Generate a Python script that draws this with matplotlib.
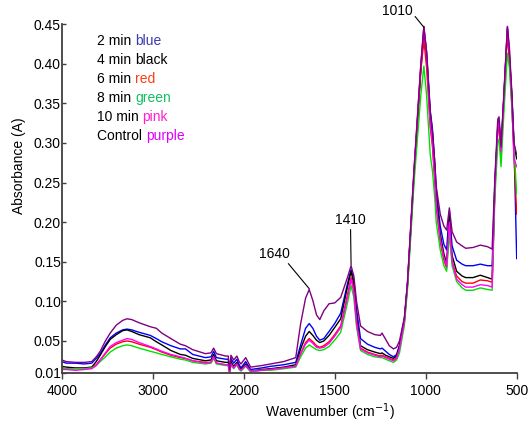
import matplotlib
matplotlib.use("Agg")
import matplotlib.pyplot as plt
import numpy as np
from matplotlib.ticker import FixedLocator, FixedFormatter

plt.rcParams["font.family"] = ["Liberation Sans", "DejaVu Sans"]

# wavenumbers (cm-1)
WAVENUMBER = [
    4000, 3950, 3850, 3750, 3670, 3620, 3577, 3520, 3467, 3400, 3330, 3283,
    3230, 3150, 3026, 2960, 2900, 2800, 2697, 2640, 2560, 2421, 2360, 2330,
    2300, 2200, 2170, 2155, 2140, 2110, 2075, 2050, 2030, 1989, 1962, 1900,
    1852, 1780, 1714, 1687, 1660, 1640, 1620, 1600, 1582, 1560, 1531, 1500,
    1467, 1430, 1410, 1395, 1380, 1358, 1320, 1280, 1249, 1240, 1220, 1200,
    1177, 1160, 1144, 1117, 1100, 1064, 1027, 1010, 995, 975, 963, 950,
    942, 920, 900, 885, 870, 855, 830, 800, 780, 740, 700, 660,
    635, 620, 604, 597, 586, 570, 551, 540, 527, 515, 500,
]

ABS_2MIN = [
    0.024, 0.022, 0.022, 0.021, 0.022, 0.028, 0.034, 0.045, 0.054, 0.060, 0.064, 0.065,
    0.064, 0.061, 0.057, 0.053, 0.049, 0.044, 0.040, 0.040, 0.033, 0.029, 0.030, 0.037,
    0.029, 0.027, 0.027, 0.012, 0.028, 0.022, 0.027, 0.020, 0.016, 0.024, 0.014, 0.016,
    0.018, 0.020, 0.023, 0.045, 0.066, 0.072, 0.066, 0.056, 0.051, 0.053, 0.062, 0.072,
    0.085, 0.122, 0.140, 0.128, 0.090, 0.053, 0.046, 0.042, 0.040, 0.041, 0.037, 0.033,
    0.030, 0.033, 0.045, 0.078, 0.122, 0.262, 0.395, 0.445, 0.415, 0.340, 0.318, 0.275,
    0.240, 0.195, 0.172, 0.165, 0.214, 0.170, 0.152, 0.147, 0.145, 0.145, 0.147, 0.145,
    0.145, 0.250, 0.322, 0.328, 0.292, 0.360, 0.445, 0.410, 0.362, 0.300, 0.154,
]
ABS_4MIN = [
    0.018, 0.017, 0.016, 0.016, 0.017, 0.024, 0.032, 0.043, 0.052, 0.058, 0.063, 0.064,
    0.062, 0.058, 0.054, 0.049, 0.045, 0.038, 0.033, 0.032, 0.028, 0.025, 0.026, 0.033,
    0.025, 0.023, 0.023, 0.011, 0.024, 0.018, 0.023, 0.017, 0.014, 0.021, 0.012, 0.014,
    0.015, 0.017, 0.020, 0.040, 0.056, 0.062, 0.057, 0.051, 0.048, 0.050, 0.057, 0.067,
    0.078, 0.118, 0.138, 0.122, 0.080, 0.044, 0.039, 0.036, 0.034, 0.035, 0.032, 0.030,
    0.028, 0.031, 0.043, 0.077, 0.121, 0.260, 0.392, 0.440, 0.410, 0.335, 0.312, 0.268,
    0.232, 0.185, 0.160, 0.148, 0.208, 0.158, 0.138, 0.132, 0.130, 0.130, 0.133, 0.130,
    0.128, 0.245, 0.318, 0.325, 0.290, 0.358, 0.443, 0.408, 0.360, 0.298, 0.280,
]
ABS_6MIN = [
    0.016, 0.015, 0.015, 0.015, 0.016, 0.020, 0.026, 0.034, 0.041, 0.046, 0.049, 0.050,
    0.049, 0.046, 0.042, 0.039, 0.036, 0.032, 0.029, 0.028, 0.025, 0.023, 0.023, 0.030,
    0.022, 0.020, 0.020, 0.010, 0.021, 0.016, 0.021, 0.015, 0.013, 0.019, 0.012, 0.013,
    0.014, 0.016, 0.018, 0.034, 0.048, 0.053, 0.049, 0.044, 0.042, 0.044, 0.049, 0.058,
    0.069, 0.108, 0.130, 0.115, 0.075, 0.041, 0.036, 0.033, 0.031, 0.032, 0.030, 0.028,
    0.026, 0.029, 0.040, 0.074, 0.120, 0.262, 0.390, 0.430, 0.395, 0.320, 0.296, 0.250,
    0.218, 0.175, 0.152, 0.142, 0.196, 0.150, 0.132, 0.125, 0.123, 0.123, 0.127, 0.126,
    0.124, 0.240, 0.315, 0.320, 0.285, 0.355, 0.438, 0.405, 0.350, 0.285, 0.210,
]
ABS_8MIN = [
    0.016, 0.015, 0.015, 0.015, 0.016, 0.019, 0.024, 0.030, 0.036, 0.041, 0.044, 0.045,
    0.044, 0.041, 0.037, 0.035, 0.033, 0.030, 0.027, 0.026, 0.023, 0.021, 0.022, 0.028,
    0.021, 0.019, 0.019, 0.010, 0.020, 0.015, 0.020, 0.014, 0.012, 0.018, 0.011, 0.013,
    0.013, 0.015, 0.017, 0.030, 0.041, 0.045, 0.042, 0.039, 0.038, 0.039, 0.043, 0.051,
    0.061, 0.098, 0.120, 0.105, 0.068, 0.038, 0.033, 0.030, 0.029, 0.029, 0.027, 0.025,
    0.023, 0.026, 0.035, 0.070, 0.115, 0.250, 0.360, 0.397, 0.360, 0.285, 0.265, 0.230,
    0.200, 0.165, 0.145, 0.138, 0.185, 0.145, 0.125, 0.117, 0.114, 0.114, 0.117, 0.115,
    0.114, 0.230, 0.300, 0.305, 0.270, 0.340, 0.413, 0.395, 0.345, 0.295, 0.235,
]
ABS_10MIN = [
    0.014, 0.014, 0.013, 0.014, 0.015, 0.019, 0.026, 0.035, 0.043, 0.048, 0.051, 0.053,
    0.052, 0.048, 0.043, 0.040, 0.037, 0.033, 0.030, 0.028, 0.025, 0.022, 0.023, 0.030,
    0.022, 0.020, 0.020, 0.010, 0.021, 0.016, 0.021, 0.015, 0.013, 0.019, 0.012, 0.013,
    0.014, 0.016, 0.018, 0.034, 0.046, 0.051, 0.047, 0.042, 0.041, 0.042, 0.047, 0.056,
    0.067, 0.105, 0.128, 0.112, 0.072, 0.040, 0.035, 0.032, 0.030, 0.031, 0.029, 0.027,
    0.025, 0.028, 0.040, 0.075, 0.124, 0.268, 0.398, 0.447, 0.410, 0.322, 0.300, 0.255,
    0.222, 0.178, 0.155, 0.144, 0.200, 0.150, 0.128, 0.121, 0.118, 0.118, 0.121, 0.120,
    0.118, 0.245, 0.320, 0.326, 0.290, 0.360, 0.447, 0.415, 0.355, 0.280, 0.270,
]
ABS_CONTROL = [
    0.026, 0.024, 0.023, 0.023, 0.024, 0.030, 0.037, 0.050, 0.060, 0.070, 0.076, 0.078,
    0.077, 0.073, 0.068, 0.066, 0.060, 0.053, 0.046, 0.044, 0.039, 0.034, 0.035, 0.041,
    0.034, 0.031, 0.031, 0.014, 0.032, 0.026, 0.031, 0.024, 0.021, 0.029, 0.017, 0.019,
    0.021, 0.024, 0.029, 0.072, 0.104, 0.115, 0.101, 0.083, 0.077, 0.088, 0.097, 0.098,
    0.105, 0.130, 0.145, 0.132, 0.100, 0.069, 0.062, 0.058, 0.057, 0.060, 0.052, 0.044,
    0.040, 0.042, 0.050, 0.080, 0.124, 0.266, 0.398, 0.447, 0.415, 0.340, 0.315, 0.275,
    0.245, 0.210, 0.195, 0.190, 0.218, 0.188, 0.175, 0.170, 0.167, 0.168, 0.171, 0.169,
    0.166, 0.255, 0.330, 0.333, 0.295, 0.365, 0.447, 0.420, 0.365, 0.300, 0.285,
]

SERIES = [
    ("2 min ", "blue", ABS_2MIN, "#0000ff", "#3b3bb0"),
    ("4 min ", "black", ABS_4MIN, "#000000", "#000000"),
    ("6 min ", "red", ABS_6MIN, "#ff0000", "#ff3c10"),
    ("8 min ", "green", ABS_8MIN, "#00e000", "#12c060"),
    ("10 min ", "pink", ABS_10MIN, "#ff00ff", "#ff20d0"),
    ("Control ", "purple", ABS_CONTROL, "#800080", "#dd00ff"),
]

X_TICKS = [4000, 3000, 2000, 1500, 1000, 500]
Y_TICKS = [0.01, 0.05, 0.10, 0.15, 0.20, 0.25, 0.30, 0.35, 0.40, 0.45]

PEAKS = [(1010, 0.446), (1410, 0.146), (1640, 0.116)]


def fwd(w):
    w = np.asarray(w, dtype=float)
    return np.where(w <= 2000, w / 500.0, 4.0 + (w - 2000) / 1000.0)


def inv(t):
    t = np.asarray(t, dtype=float)
    return np.where(t <= 4, t * 500.0, 2000 + (t - 4) * 1000.0)


fig = plt.figure(figsize=(5.30, 4.23), dpi=100)
ax = fig.add_axes([0.1164, 0.119, 0.8585, 0.824])
ax.set_xscale("function", functions=(fwd, inv))

wn = np.array(WAVENUMBER)
for prefix, word, vals, lc, tc in SERIES:
    ax.plot(wn, vals, color=lc, lw=1.0)

ax.set_xlim(4000, 500)
ax.set_ylim(0.01, 0.45)
ax.xaxis.set_major_locator(FixedLocator(X_TICKS))
ax.xaxis.set_major_formatter(FixedFormatter([str(t) for t in X_TICKS]))
ax.xaxis.set_minor_locator(FixedLocator([]))
ax.yaxis.set_major_locator(FixedLocator(Y_TICKS))
ax.yaxis.set_major_formatter(FixedFormatter([f"{t:.2f}" for t in Y_TICKS]))

for s in ("top", "right"):
    ax.spines[s].set_visible(False)
for s in ("left", "bottom"):
    ax.spines[s].set_color("#404040")
    ax.spines[s].set_linewidth(1.3)
ax.tick_params(axis="x", direction="out", length=4, width=1.0, color="#404040",
               labelsize=10, pad=4.5)
ax.tick_params(axis="y", direction="in", length=3, width=1.0, color="#404040",
               labelsize=10, pad=0.5)

ax.set_xlabel("Wavenumber (cm$^{-1}$)", fontsize=10)
ax.xaxis.set_label_coords(0.59, -0.082)
ax.set_ylabel("Absorbance (A)", fontsize=10)
ax.yaxis.set_label_coords(-0.078, 0.595)

# legend as coloured words
y0 = 0.952
for i, (prefix, word, vals, lc, tc) in enumerate(SERIES):
    t = ax.text(0.0776, y0 - i * 0.0545, prefix, transform=ax.transAxes,
                fontsize=10, va="center", ha="left", color="black")
    ax.annotate(word, xy=(1, 0), xycoords=t, va="bottom", ha="left",
                fontsize=10, color=tc)

# peak labels
ax.annotate("1010", xy=PEAKS[0], xytext=(1158, 0.466), textcoords="data",
            fontsize=10, ha="center", va="center", annotation_clip=False,
            arrowprops=dict(arrowstyle="-", lw=0.8, color="black",
                            shrinkA=0, shrinkB=0, relpos=(0.92, 0.6)))
ax.annotate("1410", xy=PEAKS[1], xytext=(1413, 0.203), textcoords="data",
            fontsize=10, ha="center", va="center",
            arrowprops=dict(arrowstyle="-", lw=0.8, color="black",
                            shrinkA=0, shrinkB=0, relpos=(0.5, 0.0)))
ax.annotate("1640", xy=PEAKS[2], xytext=(1830, 0.160), textcoords="data",
            fontsize=10, ha="center", va="center",
            arrowprops=dict(arrowstyle="-", lw=0.8, color="black",
                            shrinkA=0, shrinkB=0, relpos=(0.7, 0.45)))

fig.savefig("out.png", dpi=100)
